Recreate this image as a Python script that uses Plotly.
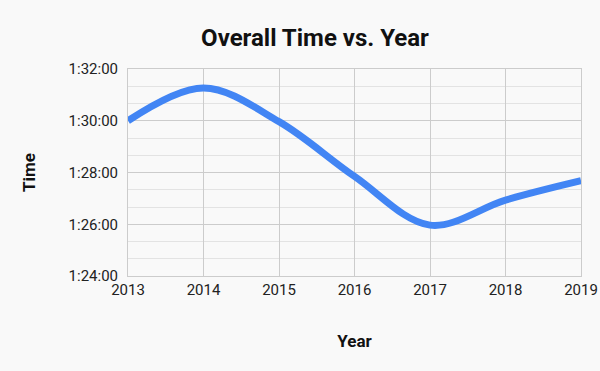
import plotly.graph_objects as go

years = [2013, 2014, 2015, 2016, 2017, 2018, 2019]
times = ["1:30:00", "1:31:16", "1:29:58", "1:27:51", "1:25:58", "1:26:56", "1:27:41"]
y_tick_labels = ["1:24:00", "1:26:00", "1:28:00", "1:30:00", "1:32:00"]


def to_sec(t):
    h, m, s = (int(p) for p in t.split(":"))
    return h * 3600 + m * 60 + s


y_vals = [to_sec(t) for t in times]
y_ticks = [to_sec(t) for t in y_tick_labels]
minor_ticks = list(range(y_ticks[0], y_ticks[-1] + 1, 40))

BG = "#f9f9f9"
fig = go.Figure(
    go.Scatter(
        x=years,
        y=y_vals,
        mode="lines",
        line=dict(color="#4285F4", width=7, shape="spline", smoothing=1.0),
        hoverinfo="skip",
    )
)

fig.update_layout(
    width=600,
    height=371,
    paper_bgcolor=BG,
    plot_bgcolor=BG,
    margin=dict(l=128, r=19, t=69, b=95),
    showlegend=False,
    font=dict(family="Roboto", color="#222222", size=15),
    title=dict(
        text="<b>Overall Time vs. Year</b>",
        x=0.525,
        xref="container",
        xanchor="center",
        y=0.9,
        yref="container",
        yanchor="middle",
        font=dict(family="Roboto", size=24, color="#111111"),
    ),
)

fig.update_xaxes(
    range=[years[0], years[-1]],
    tickvals=years,
    ticktext=[str(y) for y in years],
    automargin=False,
    showgrid=True,
    gridcolor="#cccccc",
    gridwidth=1,
    showline=True,
    linecolor="#cccccc",
    mirror=True,
    zeroline=False,
    ticks="",
    tickfont=dict(size=15, color="#222222"),
    title=dict(text="<b>Year</b>", font=dict(size=17, color="#111111"), standoff=37),
)

fig.update_yaxes(
    range=[y_ticks[0], y_ticks[-1]],
    tickmode="array",
    tickvals=y_ticks,
    ticktext=y_tick_labels,
    showgrid=True,
    gridcolor="#cccccc",
    gridwidth=1,
    minor=dict(tickmode="array", tickvals=minor_ticks, showgrid=True, gridcolor="#e3e3e3", gridwidth=1, ticks=""),
    showline=True,
    linecolor="#cccccc",
    mirror=True,
    zeroline=False,
    ticks="",
    ticklabelstandoff=6,
    tickfont=dict(size=15, color="#222222"),
    title=dict(text="<b>Time</b>", font=dict(size=17, color="#111111"), standoff=28),
)

fig.write_html(
    "out.html",
    config={"displayModeBar": False},
    post_script="document.body.style.margin='0';",
)
